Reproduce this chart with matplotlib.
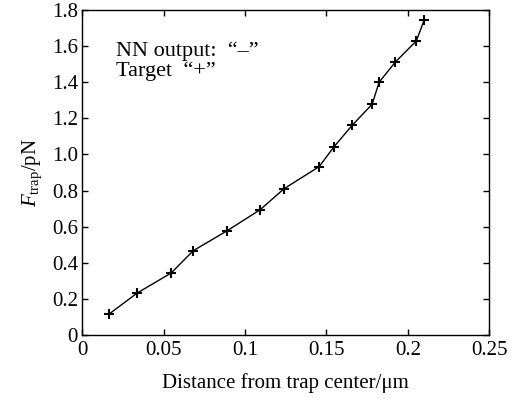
import numpy as np
import matplotlib.pyplot as plt

# --- Daten ---
distance = [0.0166, 0.0338, 0.0547, 0.0682, 0.0891, 0.1093, 0.1241, 0.1456,
            0.1548, 0.1658, 0.1781, 0.1824, 0.1923, 0.2052, 0.2101]
force = [0.117, 0.233, 0.344, 0.467, 0.578, 0.694, 0.811, 0.933,
         1.044, 1.161, 1.278, 1.400, 1.511, 1.628, 1.744]

x_ticks = [0, 0.05, 0.1, 0.15, 0.2, 0.25]
x_tick_labels = ["0", "0.05", "0.1", "0.15", "0.2", "0.25"]
y_ticks = [0, 0.2, 0.4, 0.6, 0.8, 1.0, 1.2, 1.4, 1.6, 1.8]
y_tick_labels = ["0", "0.2", "0.4", "0.6", "0.8", "1.0", "1.2", "1.4", "1.6", "1.8"]

plt.rcParams["font.family"] = ["Liberation Serif", "DejaVu Serif"]
plt.rcParams["mathtext.fontset"] = "custom"
plt.rcParams["mathtext.rm"] = "Liberation Serif"
plt.rcParams["mathtext.it"] = "Liberation Serif:italic"

fig = plt.figure(figsize=(5.3, 3.98), dpi=100)
ax = fig.add_axes([0.155, 0.158, 0.768, 0.817])

ax.plot(distance, force, color="black", linewidth=1.0, marker="+",
        markersize=7.5, markeredgewidth=1.5)

ax.set_xlim(0, 0.25)
ax.set_ylim(0, 1.8)
ax.set_xticks(x_ticks)
ax.set_xticklabels(x_tick_labels)
ax.set_yticks(y_ticks)
ax.set_yticklabels(y_tick_labels)
ax.tick_params(direction="in", top=True, right=True, labelsize=15,
               length=4, width=1)
ax.tick_params(axis="x", pad=4)
ax.tick_params(axis="y", pad=3)
for s in ax.spines.values():
    s.set_linewidth(1.0)

ax.set_xlabel("Distance from trap center/\u03bcm", fontsize=15, labelpad=10)
ax.set_ylabel(r"$F_{\mathrm{trap}}$/pN", fontsize=15, labelpad=6)

# Beschriftung im Diagramm
ax.text(0.0205, 1.544, "NN output:  \u201c\u2013\u201d", fontsize=16,
        va="baseline", ha="left")
ax.text(0.0205, 1.433, "Target  \u201c+\u201d", fontsize=16,
        va="baseline", ha="left")

fig.savefig("out.png", dpi=100)
